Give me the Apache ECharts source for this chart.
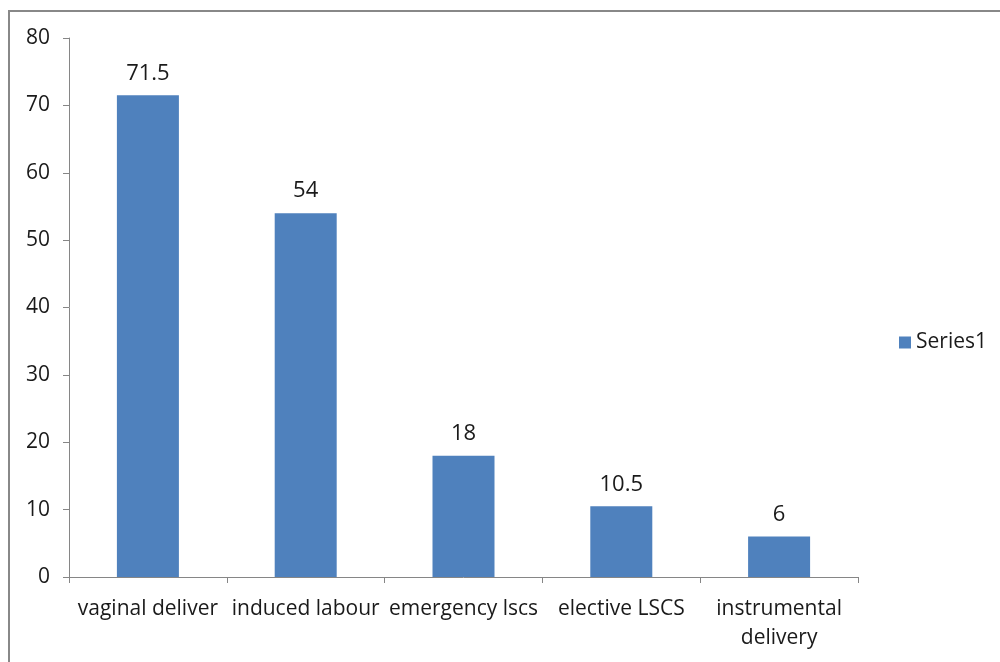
<!DOCTYPE html>
<html>
<head>
<meta charset="utf-8">
<script src="https://cdn.jsdelivr.net/npm/echarts@6/dist/echarts.min.js"></script>
<style>
html,body{margin:0;padding:0;background:#fff;}
#c{width:1000px;height:662px;}
</style>
</head>
<body>
<div id="c"></div>
<script>
var categories = ['vaginal deliver', 'induced labour', 'emergency lscs', 'elective LSCS', 'instrumental\ndelivery'];
var values = [71.5, 54, 18, 10.5, 6];
var seriesName = 'Series1';

var chart = echarts.init(document.getElementById('c'));
var font = '"Open Sans", sans-serif';
chart.setOption({
  animation: false,
  backgroundColor: '#fff',
  graphic: [
    {type: 'line', shape: {x1: 9, y1: 11, x2: 1000, y2: 11}, style: {stroke: '#888', lineWidth: 2}},
    {type: 'line', shape: {x1: 9, y1: 10, x2: 9, y2: 662}, style: {stroke: '#888', lineWidth: 2}}
  ],
  grid: {left: 69, right: 142, top: 38, bottom: 85, containLabel: false},
  legend: {
    data: [seriesName], orient: 'vertical', left: 894, top: 327,
    itemWidth: 12, itemHeight: 12, itemGap: 6,
    icon: 'rect',
    textStyle: {fontFamily: font, fontSize: 21, color: '#1a1a1a'}
  },
  xAxis: {
    type: 'category', data: categories,
    axisLine: {lineStyle: {color: '#868686', width: 1}},
    axisTick: {show: true, length: 6, alignWithLabel: false, lineStyle: {color: '#868686'}},
    axisLabel: {interval: 0, margin: 18, fontFamily: font, fontSize: 21, color: '#1a1a1a', lineHeight: 29}
  },
  yAxis: {
    type: 'value', min: 0, max: 80, interval: 10,
    axisLine: {show: true, lineStyle: {color: '#868686', width: 1}},
    axisTick: {show: true, length: 6, lineStyle: {color: '#868686'}},
    splitLine: {show: false},
    axisLabel: {margin: 19, fontFamily: font, fontSize: 21, color: '#1a1a1a'}
  },
  series: [{
    name: seriesName, type: 'bar', data: values,
    barWidth: 62,
    itemStyle: {color: '#4F81BD'},
    label: {show: true, position: 'top', distance: 11, fontFamily: font, fontSize: 22, color: '#1a1a1a'}
  }]
});
</script>
</body>
</html>
